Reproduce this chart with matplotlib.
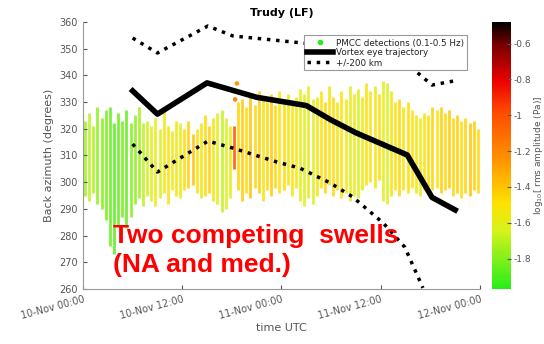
#!/usr/bin/env python
# -*- coding: utf-8 -*-

"""
Back azimuth of PMCC detections during hurricane Trudy (LF band),
with the vortex eye trajectory and the +/-200 km envelope.
"""

import numpy
import matplotlib
matplotlib.use('Agg')
import matplotlib.pyplot as plt
from matplotlib.colors import LinearSegmentedColormap, Normalize
from matplotlib.lines import Line2D

# hours since 10-Nov 00:00 UTC, one detection column every half hour
det_time = numpy.arange(0.25, 48.0, 0.5)
det_low = [295, 293, 296, 292, 290, 286, 276, 273, 284, 287, 283, 287,
           292, 294, 291, 295, 293, 291, 294, 296, 292, 297, 295, 294,
           297, 298, 299, 296, 294, 295, 296, 293, 292, 289, 290, 294,
           305, 297, 293, 296, 294, 298, 296, 293, 297, 295, 298, 296,
           297, 299, 295, 298, 293, 291, 294, 292, 295, 298, 296, 299,
           295, 297, 294, 296, 293, 295, 294, 297, 299, 300, 298, 301,
           293, 292, 295, 297, 295, 297, 296, 298, 296, 295, 297, 296,
           297, 298, 296, 297, 298, 295, 296, 294, 296, 295, 297, 296]
det_high = [323, 326, 321, 328, 324, 327, 328, 322, 326, 323, 327, 322,
            325, 328, 322, 323, 321, 324, 320, 328, 321, 319, 323, 322,
            320, 323, 318, 320, 322, 325, 321, 324, 326, 327, 324, 321,
            321, 330, 331, 328, 332, 329, 334, 331, 330, 333, 329, 334,
            331, 333, 330, 332, 335, 333, 336, 331, 332, 334, 330, 336,
            332, 330, 334, 331, 336, 333, 335, 332, 337, 334, 336, 333,
            338, 337, 334, 330, 331, 328, 330, 327, 325, 324, 326, 325,
            328, 327, 328, 326, 327, 324, 325, 323, 324, 322, 323, 320]
det_amp = [-1.75, -1.70, -1.72, -1.78, -1.80, -1.82, -1.85, -1.88, -1.85, -1.83, -1.86, -1.80,
           -1.78, -1.74, -1.70, -1.66,
           -1.62, -1.58, -1.64, -1.55, -1.52, -1.58, -1.54, -1.60,
           -1.48, -1.45, -1.40, -1.50, -1.55, -1.47, -1.44, -1.52, -1.62, -1.68, -1.64, -1.58,
           -1.00,
           -1.45, -1.42, -1.48, -1.40, -1.46, -1.44, -1.52, -1.47, -1.42, -1.46, -1.50, -1.48,
           -1.55, -1.50, -1.56,
           -1.60, -1.64, -1.58, -1.62, -1.55, -1.50, -1.46, -1.52, -1.48, -1.55, -1.50, -1.56,
           -1.62, -1.58, -1.64, -1.57, -1.52, -1.50, -1.54, -1.48,
           -1.60, -1.64, -1.55, -1.50, -1.46, -1.52, -1.48, -1.50, -1.54, -1.58, -1.52, -1.48,
           -1.45, -1.50, -1.44, -1.47, -1.42, -1.46, -1.43, -1.48, -1.45, -1.40, -1.44, -1.47]

# a few isolated detections
extra_time = [18.6, 18.6, 18.4]
extra_az = [337, 334, 331]
extra_amp = [-1.25, -1.3, -1.2]

# vortex eye trajectory
eye_time = [6.0, 9.0, 15.0, 21.0, 27.0, 30.0, 33.0, 39.2, 42.2, 45.0]
eye_az = [334.2, 325.5, 337.2, 331.8, 328.7, 323.3, 318.5, 310.2, 294.3, 289.6]

# +/-200 km envelope
upper_time = [6.0, 9.0, 15.1, 18.1, 23.8, 27.0, 33.0, 39.3, 42.2, 45.0]
upper_az = [354.0, 348.4, 358.5, 354.8, 353.0, 352.0, 349.5, 344.0, 336.4, 338.0]
lower_time = [6.0, 9.0, 15.1, 18.1, 23.4, 26.2, 29.9, 32.6, 36.3, 38.9, 41.1]
lower_az = [314.3, 303.8, 315.4, 312.8, 307.6, 305.3, 299.7, 294.5, 284.7, 275.7, 260.4]

xtick_hours = [0, 12, 24, 36, 48]
xtick_labels = ['10-Nov 00:00', '10-Nov 12:00', '11-Nov 00:00', '11-Nov 12:00', '12-Nov 00:00']
cbar_ticks = [-1.8, -1.6, -1.4, -1.2, -1.0, -0.8, -0.6]
cbar_labels = ['-1.8', '-1.6', '-1.4', '-1.2', '-1', '-0.8', '-0.6']

GRAY = '#555555'

cmap = LinearSegmentedColormap.from_list('pmcc', [
    (0.00, (0.15, 0.93, 0.10)),
    (0.22, (0.85, 0.95, 0.10)),
    (0.32, (1.00, 0.88, 0.00)),
    (0.50, (1.00, 0.55, 0.00)),
    (0.66, (1.00, 0.30, 0.00)),
    (0.78, (0.93, 0.00, 0.00)),
    (0.92, (0.45, 0.00, 0.00)),
    (1.00, (0.00, 0.00, 0.00))])
norm = Normalize(vmin=-1.97, vmax=-0.48)

fig = plt.figure(figsize=(5.44, 3.44), dpi=100)
ax = fig.add_axes([0.1526, 0.16, 0.7297, 0.776])
cax = fig.add_axes([0.904, 0.16, 0.035, 0.776])

ax.vlines(det_time, det_low, det_high, colors=cmap(norm(numpy.array(det_amp))),
          linewidth=2.0, alpha=0.85, zorder=1)
ax.scatter(extra_time, extra_az, c=extra_amp, cmap=cmap, norm=norm, s=5, zorder=1)

ax.plot(eye_time, eye_az, color='black', linewidth=4, zorder=3)
ax.plot(upper_time, upper_az, color='black', linestyle=':', linewidth=2.5, zorder=3)
ax.plot(lower_time, lower_az, color='black', linestyle=':', linewidth=2.5, zorder=3)

ax.set_xlim(0, 48)
ax.set_ylim(260, 360)
ax.set_yticks(numpy.arange(260, 361, 10))
ax.set_xticks(xtick_hours)
ax.set_xticklabels(xtick_labels, rotation=15, ha='right', rotation_mode='anchor')
ax.tick_params(direction='in', length=3, colors=GRAY, labelsize=7)
for side in ['top', 'right']:
    ax.spines[side].set_visible(False)
for side in ['left', 'bottom']:
    ax.spines[side].set_color('#999999')

ax.set_ylabel('Back azimuth (degrees)', fontsize=8, color=GRAY)
ax.set_xlabel('time UTC', fontsize=8, color=GRAY, labelpad=2)
ax.set_title('Trudy (LF)', fontsize=8, fontweight='bold', pad=4)

handles = [Line2D([], [], marker='o', markersize=3, linestyle='none', color=cmap(0.0)),
           Line2D([], [], color='black', linewidth=4),
           Line2D([], [], color='black', linestyle=':', linewidth=2.5)]
labels = ['PMCC detections (0.1-0.5 Hz)', 'Vortex eye trajectory', '+/-200 km']
leg = ax.legend(handles, labels, loc='upper right', bbox_to_anchor=(0.978, 0.966),
                fontsize=6.3, frameon=True, fancybox=False, framealpha=1.0,
                borderpad=0.35, labelspacing=0.1, handlelength=3.0, handletextpad=0.3,
                numpoints=1)
leg.get_frame().set_edgecolor('#999999')
leg.get_frame().set_linewidth(0.8)
for txt in leg.get_texts():
    txt.set_color('#222222')

red_font = dict(color='red', fontsize=19, fontweight='bold', family='Liberation Sans',
                va='baseline', ha='left', zorder=5)
ax.text(3.6, 277.2, 'Two competing  swells', **red_font)
ax.text(3.6, 266.4, '(NA and med.)', **red_font)

cb = matplotlib.colorbar.ColorbarBase(cax, cmap=cmap, norm=norm)
cb.set_ticks(cbar_ticks)
cb.set_ticklabels(cbar_labels)
cb.outline.set_visible(False)
cax.tick_params(direction='in', length=3, colors=GRAY, labelsize=6.5, pad=2)
cb.set_label('log$_{10}$[ rms amplitude (Pa)]', fontsize=6.5, color=GRAY,
             va='center', rotation=90)
cax.yaxis.set_label_coords(2.45, 0.5)

fig.savefig('out.png', dpi=100)
